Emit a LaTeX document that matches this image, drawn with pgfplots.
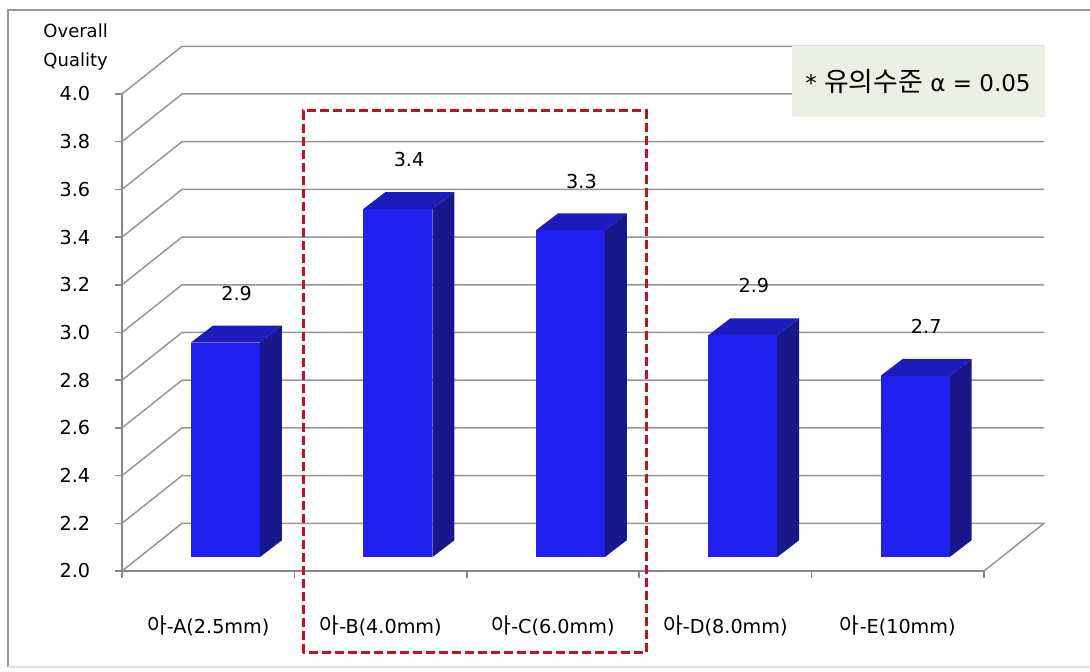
\documentclass[border=0pt]{standalone}
\usepackage{pgfplots}
\usepackage{pgfplotstable}
\pgfplotsset{compat=1.18}
\usepackage{fontspec}
\setmainfont{DejaVu Sans}
\newfontfamily\kr[Scale=1.12]{Noto Sans CJK KR}
\definecolor{barfront}{RGB}{32,32,240}
\definecolor{bartop}{RGB}{28,28,188}
\definecolor{barside}{RGB}{24,24,140}
\definecolor{gridgray}{RGB}{150,150,150}
\definecolor{axisgray}{RGB}{135,135,135}
\definecolor{boxfill}{RGB}{236,240,226}
\definecolor{hired}{RGB}{190,20,30}
\pgfplotstableread{
x v label
0 2.90 2.9
1 3.46 3.4
2 3.37 3.3
3 2.93 2.9
4 2.76 2.7
}\data
\begin{document}
\begin{tikzpicture}
\useasboundingbox (0,0) rectangle (545pt,336pt);
% outer frame
\draw[color={rgb,255:red,150;green,150;blue,150}, line width=0.8pt] (545pt,331pt) -- (4pt,331pt) -- (4pt,2.5pt);
\draw[color={rgb,255:red,225;green,225;blue,225}, line width=0.6pt] (4pt,2.5pt) -- (545pt,2.5pt);
\begin{axis}[
  at={(61pt,50.5pt)}, anchor=south west,
  scale only axis, width=431pt, height=238.5pt,
  xmin=0, xmax=5, ymin=2, ymax=4,
  clip=false,
  axis x line*=bottom, axis y line*=left,
  axis line style={-, draw=axisgray, line width=0.75pt},
  tick style={draw=axisgray, line width=0.75pt},
  tick align=outside, major tick length=3.75pt,
  xtick={0,1,2,3,4,5},
  x tick label as interval,
  xticklabels={{\kr 아}-A(2.5mm),{\kr 아}-B(4.0mm),{\kr 아}-C(6.0mm),{\kr 아}-D(8.0mm),{\kr 아}-E(10mm)},
  xticklabel style={anchor=center, yshift=-23.5pt, font=\fontsize{9.6}{11}\selectfont},
  ytick={2.0,2.2,2.4,2.6,2.8,3.0,3.2,3.4,3.6,3.8,4.0},
  /pgf/number format/assume math mode=true,
  yticklabel style={/pgf/number format/.cd, fixed, fixed zerofill, precision=1, /tikz/.cd,
    anchor=east, inner sep=0pt, xshift=-12pt, font=\fontsize{9.6}{11}\selectfont},
  every node near coord/.append style={anchor=center, font=\fontsize{9.6}{11}\selectfont, text=black},
]
% back wall gridlines
\pgfplotsinvokeforeach{2.2,2.4,2.6,2.8,3.0,3.2,3.4,3.6,3.8,4.0}{
  \addplot[draw=gridgray, line width=0.75pt] coordinates {(0,#1) (0.348,#1+0.2) (5.348,#1+0.2)};
}
\addplot[draw=gridgray, line width=0.75pt] coordinates {(0,2.0) (0.348,2.2) (5.348,2.2) (5,2.0)};
% bars
\pgfplotsinvokeforeach{0,1,2,3,4}{%
  \pgfplotstablegetelem{#1}{v}\of\data
  \pgfmathsetmacro\xa{#1+0.4}%
  \pgfmathsetmacro\xb{#1+0.8}%
  \pgfmathsetmacro\xc{#1+0.928}%
  \pgfmathsetmacro\xd{#1+0.528}%
  \pgfmathsetmacro\yt{\pgfplotsretval+0.058}%
  \pgfmathsetmacro\ytt{\pgfplotsretval+0.129}%
  \edef\temp{%
    \noexpand\addplot[fill=barfront, draw=none] coordinates {(\xa,2.058) (\xb,2.058) (\xb,\yt) (\xa,\yt)} -- cycle;
    \noexpand\addplot[fill=barside, draw=none] coordinates {(\xb,2.058) (\xc,2.129) (\xc,\ytt) (\xb,\yt)} -- cycle;
    \noexpand\addplot[fill=bartop, draw=none] coordinates {(\xa,\yt) (\xd,\ytt) (\xc,\ytt) (\xb,\yt)} -- cycle;
  }%
  \temp
}
% value labels
\addplot[draw=none, nodes near coords, point meta=explicit symbolic]
  table[x expr=\thisrow{x}+0.665, y expr=\thisrow{v}+0.265, meta=label] {\data};
% significance box
\fill[boxfill] (axis cs:3.886,3.904) rectangle (axis cs:5.354,4.201);
\node[anchor=center, inner sep=0pt] at (axis cs:4.617,4.054)
  {\fontsize{11.5}{13}\selectfont * {\kr\fontsize{12}{13}\selectfont 유의수준} α = 0.05};
% y label
\node[anchor=west, align=left, inner sep=0pt, font=\fontsize{9}{14.5}\selectfont] at (axis cs:-0.458,4.195) {Overall\\Quality};
\end{axis}
% red dashed highlight
\draw[hired, line width=1.5pt, dash pattern=on 4.5pt off 2pt] (151.5pt,9.5pt) rectangle (323pt,280.5pt);
\end{tikzpicture}
\end{document}
